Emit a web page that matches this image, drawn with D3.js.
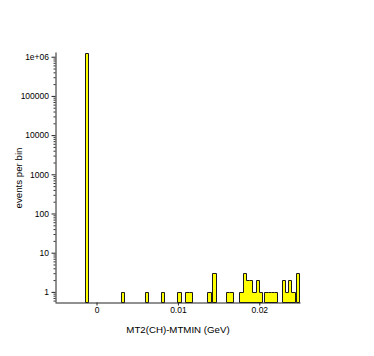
<!DOCTYPE html>
<html>
<head>
<meta charset="utf-8">
<script src="https://cdn.jsdelivr.net/npm/d3@7"></script>
<style>
  html, body { margin: 0; padding: 0; background: #ffffff; }
  svg { display: block; }
  text { font-family: "Liberation Sans", Arial, Helvetica, sans-serif; fill: #000; }
</style>
</head>
<body>
<svg id="chart" width="374" height="356"></svg>
<script>
// ---- data ----
const binWidth = 0.0004; // GeV
const binStarts = [
  -0.00141, 0.00299, 0.00596, 0.00792, 0.00993, 0.01091, 0.01131,
  0.01361, 0.01423, 0.01591, 0.01631,
  0.01754, 0.01794, 0.01834, 0.01874, 0.01914, 0.01954, 0.01994,
  0.02061, 0.02101, 0.02141, 0.02181,
  0.02273, 0.02313, 0.02353, 0.02393, 0.02453
];
const counts = [
  1240000, 1, 1, 1, 1, 1, 1,
  1, 3, 1, 1,
  1, 3, 2, 2, 1, 2, 1,
  1, 1, 1, 1,
  2, 1, 2, 1, 3
];
const xTickValues = [0, 0.01, 0.02];
const xTickLabels = ["0", "0.01", "0.02"];
const yTickValues = [1, 10, 100, 1000, 10000, 100000, 1000000];
const yTickLabels = ["1", "10", "100", "1000", "10000", "100000", "1e+06"];
const xDomain = [-0.0051, 0.025];
const yDomain = [0.552, 1.32e6];
const xTitle = "MT2(CH)-MTMIN (GeV)";
const yTitle = "events per bin";

// ---- layout ----
const mLeft = 55, mRight = 300, mTop = 52, mBottom = 302;
const svg = d3.select("#chart");

const x = d3.scaleLinear().domain(xDomain).range([mLeft, mRight]);
const y = d3.scaleLog().domain(yDomain).range([mBottom, mTop]);

// group contiguous bins into runs, draw each run as one step outline
const bars = binStarts.map((s, i) => ({ s, e: s + binWidth, c: counts[i] }));
const runs = [];
bars.forEach(b => {
  const last = runs[runs.length - 1];
  if (last && Math.abs(last[last.length - 1].e - b.s) < binWidth * 0.1) last.push(b);
  else runs.push([b]);
});

const snap = v => Math.round(v) + 0.5;
const runPath = run => {
  const p = d3.path();
  p.moveTo(snap(x(run[0].s)), snap(y(yDomain[0])));
  run.forEach(b => {
    p.lineTo(snap(x(b.s)), snap(y(b.c)));
    p.lineTo(snap(x(b.e)), snap(y(b.c)));
  });
  p.lineTo(snap(x(run[run.length - 1].e)), snap(y(yDomain[0])));
  p.closePath();
  return p.toString();
};

svg.append("g")
  .selectAll("path")
  .data(runs)
  .join("path")
  .attr("d", runPath)
  .attr("fill", "#ffff00")
  .attr("stroke", "#1a1a1a")
  .attr("stroke-width", 1);

// minor y ticks
const minor = [];
for (let e = -1; e <= 6; e++) {
  for (let m = 2; m <= 9; m++) {
    const v = m * Math.pow(10, e);
    if (v >= yDomain[0] && v <= yDomain[1]) minor.push(v);
  }
}
const yMinor = svg.append("g")
  .attr("transform", `translate(${mLeft + 0.5},0)`)
  .call(d3.axisLeft(y).tickValues(minor).tickSize(2).tickFormat(""));
yMinor.select(".domain").remove();
yMinor.selectAll("line").attr("stroke", "#333");

// major y axis
const yAxis = svg.append("g")
  .attr("transform", `translate(${mLeft + 0.5},0)`)
  .call(d3.axisLeft(y)
    .tickValues(yTickValues)
    .tickSize(4)
    .tickSizeOuter(0)
    .tickPadding(2.5)
    .tickFormat((d, i) => yTickLabels[i]));
yAxis.selectAll("text").attr("font-size", "8.5px").attr("font-family", null);
yAxis.selectAll("line, path").attr("stroke", "#222");

// x axis
const xAxis = svg.append("g")
  .attr("transform", `translate(0,${mBottom + 0.5})`)
  .call(d3.axisBottom(x)
    .tickValues(xTickValues)
    .tickSize(3)
    .tickSizeOuter(0)
    .tickPadding(1.5)
    .tickFormat((d, i) => xTickLabels[i]));
xAxis.selectAll("text").attr("font-size", "8.5px").attr("font-family", null);
xAxis.selectAll("line, path").attr("stroke", "#222");

// titles
svg.append("text")
  .attr("x", 178).attr("y", 333)
  .attr("text-anchor", "middle")
  .attr("font-size", "9.7px")
  .text(xTitle);

svg.append("text")
  .attr("transform", "translate(22,178) rotate(-90)")
  .attr("text-anchor", "middle")
  .attr("font-size", "9.7px")
  .text(yTitle);
</script>
</body>
</html>
